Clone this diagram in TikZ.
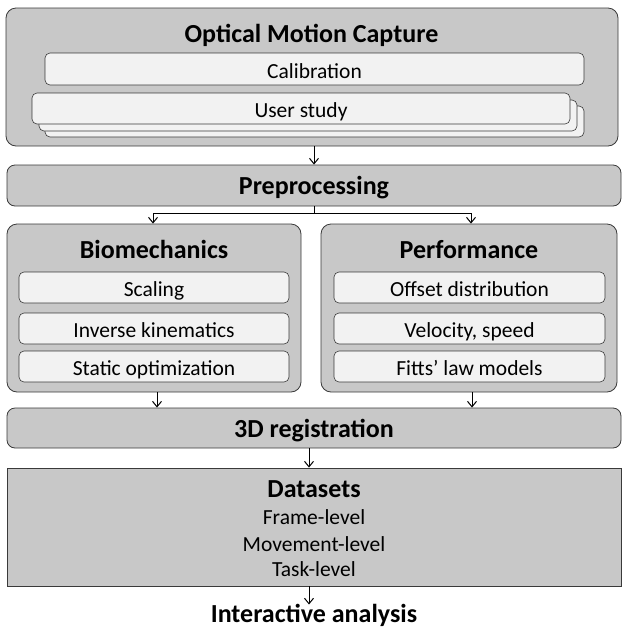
\documentclass[tikz,border=0pt]{standalone}
\usepackage{fontspec}
\setmainfont{Carlito}
\usetikzlibrary{arrows.meta}
\definecolor{boxgray}{HTML}{C8C8C8}
\definecolor{innergray}{HTML}{F2F2F2}
\definecolor{edgegray}{HTML}{3A3A3A}
\tikzset{
 outerbox/.style={draw=edgegray, fill=boxgray, line width=0.8pt, rounded corners=10pt, inner sep=0pt},
 flatbox/.style={draw=edgegray, fill=boxgray, line width=0.8pt, inner sep=0pt},
 innerbox/.style={draw=edgegray, fill=innergray, line width=0.6pt, rounded corners=5pt, inner sep=0pt,
   font=\fontsize{21.5}{24}\selectfont, text height=18.5pt, text depth=0pt},
 ttl/.style={font=\bfseries\fontsize{26}{30}\selectfont, inner sep=0pt, anchor=base},
 txt/.style={font=\fontsize{21.5}{24}\selectfont, inner sep=0pt, anchor=base},
 arr/.style={draw=black, line width=1pt, -{Straight Barb[length=5.5pt,width=9pt]}},
 ln/.style={draw=black, line width=1pt},
}
\begin{document}
\begin{tikzpicture}[x=1pt,y=-1pt]
\useasboundingbox (0,0) rectangle (629,633);
% Optical Motion Capture
\node[outerbox, minimum width=612pt, minimum height=138pt] (omc) at (312,77) {};
\node[ttl] (omct) at (311.5,42.5) {Optical Motion Capture};
\node[innerbox, minimum width=539pt, minimum height=32pt] (calib) at (314.5,69) {Calibration};
\node[innerbox, minimum width=539pt, minimum height=31pt] (us3) at (314.5,121.5) {};
\node[innerbox, minimum width=538pt, minimum height=31pt] (us2) at (308,115.5) {};
\node[innerbox, minimum width=538pt, minimum height=31pt] (us1) at (301,108.5) {User study};
% Preprocessing
\node[outerbox, rounded corners=8pt, minimum width=614pt, minimum height=41pt] (prep) at (314,185.5) {};
\node[ttl] (prept) at (314,194.5) {Preprocessing};
% Biomechanics
\node[outerbox, minimum width=294pt, minimum height=168pt] (bio) at (154,308) {};
\node[ttl] (biot) at (154,258) {Biomechanics};
\node[innerbox, minimum width=270pt, minimum height=31pt] (scal) at (154,287.5) {Scaling};
\node[innerbox, minimum width=270pt, minimum height=31pt] (ik) at (154,328.5) {Inverse kinematics};
\node[innerbox, minimum width=270pt, minimum height=31pt] (so) at (154,366.5) {Static optimization};
% Performance
\node[outerbox, minimum width=296pt, minimum height=168pt] (perf) at (469,308) {};
\node[ttl] (perft) at (469,258) {Performance};
\node[innerbox, minimum width=271pt, minimum height=31pt] (od) at (469.5,287.5) {Offset distribution};
\node[innerbox, minimum width=271pt, minimum height=31pt] (vs) at (469.5,328.5) {Velocity, speed};
\node[innerbox, minimum width=271pt, minimum height=31pt] (fl) at (469.5,366.5) {Fitts’ law models};
% 3D registration
\node[outerbox, rounded corners=8pt, minimum width=614pt, minimum height=40pt] (reg) at (314,428) {};
\node[ttl] (regt) at (314,437) {3D registration};
% Datasets
\node[flatbox, minimum width=614pt, minimum height=118pt] (data) at (314,527) {};
\node[ttl] (datat) at (314,497) {Datasets};
\node[txt] (fr) at (314,524) {Frame-level};
\node[txt] (mv) at (314,551) {Movement-level};
\node[txt] (tk) at (314,576) {Task-level};
% Interactive analysis
\node[ttl] (ia) at (314,622) {Interactive analysis};
% connectors
\coordinate (split) at (314,213);
\coordinate (splitl) at (153,213);
\coordinate (splitr) at (471,213);
\draw[arr] (omc.south -| split) -- (prep.north -| split);
\draw[ln] (prep.south -| split) -- (split);
\draw[ln] (splitl) -- (splitr);
\draw[arr] (splitl) -- (bio.north -| splitl);
\draw[arr] (splitr) -- (perf.north -| splitr);
\draw[arr] ([xshift=3pt]bio.south) -- ([xshift=3pt]bio.south |- reg.north);
\draw[arr] ([xshift=3pt]perf.south) -- ([xshift=3pt]perf.south |- reg.north);
\draw[arr] ([xshift=-5pt]reg.south) -- ([xshift=-5pt]data.north);
\draw[arr] ([xshift=-5pt]data.south) -- ([xshift=-5pt,yshift=-1pt]ia.north);
\end{tikzpicture}
\end{document}
